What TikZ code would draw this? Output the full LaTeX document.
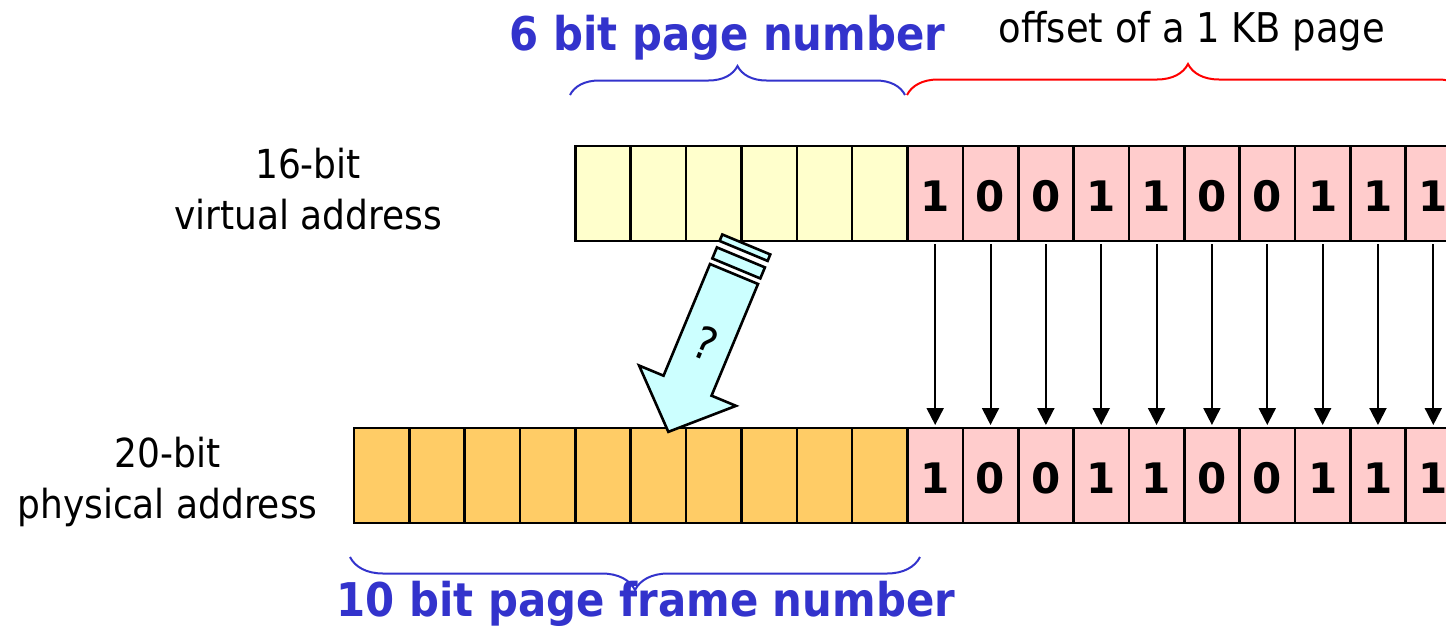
\documentclass[tikz,border=0pt]{standalone}
\usepackage{fontspec}
\setmainfont{DejaVu Sans Condensed}
\newfontfamily\digitfont{DejaVu Sans}
\usetikzlibrary{arrows.meta,decorations.pathreplacing}

\definecolor{vpagecol}{HTML}{FFFFCC}
\definecolor{offcol}{HTML}{FFCCCC}
\definecolor{framecol}{HTML}{FFCC66}
\definecolor{mapcol}{HTML}{CCFFFF}
\definecolor{labelblue}{HTML}{3333CC}

\begin{document}
\begin{tikzpicture}[x=1pt, y=-1pt,
  bitcell/.style={draw, line width=2.6pt, minimum width=55.35pt, minimum height=95pt,
    inner sep=0pt, outer sep=0pt},
  bitdigit/.style={font=\digitfont\bfseries\fontsize{42}{42}\selectfont,
    text height=36pt, text depth=0pt},
  bitarrow/.style={-{Triangle[width=17pt,length=17pt]}, line width=2pt,
    shorten <=3pt, shorten >=3pt},
  addrlabel/.style={align=center, inner sep=0pt, font=\fontsize{40}{51}\selectfont},
  fieldlabel/.style={anchor=base, inner sep=0pt, text=labelblue,
    font=\bfseries\fontsize{46.5}{46.5}\selectfont},
  fieldbrace/.style={decorate, line width=2pt, decoration={brace, amplitude=#1}}
]
  \useasboundingbox (0,0) rectangle (1446,625);
  \clip (0,0) rectangle (1446,625);

  % 虚拟地址: 6 位页号 + 10 位偏移
  \foreach \i in {0,...,5}
    \node[bitcell, fill=vpagecol] (vp\i) at ({575.4+55.35*(\i+0.5)},193.5) {};
  % 物理地址: 10 位页框号
  \foreach \i in {0,...,9}
    \node[bitcell, fill=framecol] (pf\i) at ({354+55.35*(\i+0.5)},475.5) {};
  % 偏移部分原样复制
  \foreach \b [count=\i from 0] in {1,0,0,1,1,0,0,1,1,1} {
    \node[bitcell, bitdigit, fill=offcol] (vo\i) at ({907.5+55.35*(\i+0.5)},193.5) {\b};
    \node[bitcell, bitdigit, fill=offcol] (po\i) at ({907.5+55.35*(\i+0.5)},475.5) {\b};
    \draw[bitarrow] (vo\i) -- (po\i);
  }

  \node[addrlabel] (vlabel) at (308,189.5) {16-bit\\virtual address};
  \node[addrlabel] (plabel) at (167.5,481.5) {20-bit\\physical address};

  % 大箭头 (页号 -> 页框号), 局部坐标: x 横向, y 沿箭头
  \begin{scope}[shift={(734,274)}, x={(0.923pt,-0.384pt)}, y={(-0.384pt,-0.923pt)},
    line width=2.6pt, fill=mapcol]
    \filldraw (-26,0) -- (26,0) -- (26,121) -- (52.5,121) -- (0,171)
      -- (-52.5,121) -- (-26,121) -- cycle;
    \filldraw (-26,-6) -- (26,-6) -- (26,-18) -- (-26,-18) -- cycle;
    \filldraw (-26,-25) -- (26,-25) -- (26,-32) -- (-26,-32) -- cycle;
    \node[rotate=-22.6, inner sep=0pt, font=\fontsize{45}{45}\selectfont] (qmark) at (1,75) {?};
  \end{scope}

  % 括号和标注
  \draw[fieldbrace=29pt, labelblue] (570,95) -- (905,95);
  \draw[fieldbrace=31pt, red] (907,95) -- (1469,95);
  \draw[fieldbrace=33pt, labelblue] (920,557) -- (350,557);

  \node[fieldlabel] (pagelabel) at (727.5,50) {6 bit page number};
  \node[anchor=base, inner sep=0pt, font=\fontsize{41}{41}\selectfont] (offlabel)
    at (1192,42) {offset of a 1 KB page};
  \node[fieldlabel] (framelabel) at (646,616) {10 bit page frame number};
\end{tikzpicture}
\end{document}
